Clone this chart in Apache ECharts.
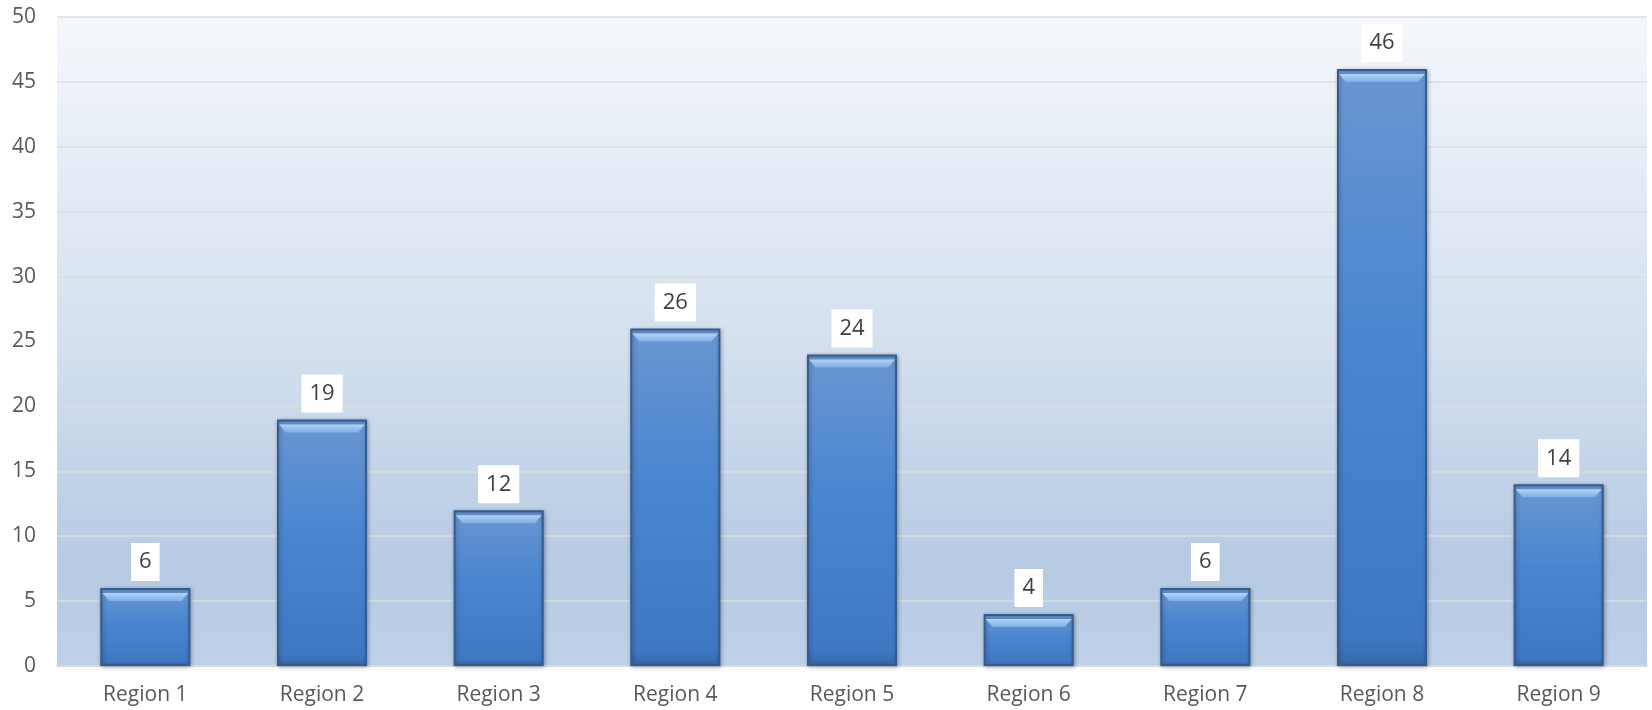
<!DOCTYPE html>
<html>
<head>
<meta charset="utf-8">
<script src="https://cdn.jsdelivr.net/npm/echarts@6/dist/echarts.min.js"></script>
<style>
  html, body { margin: 0; padding: 0; background: #fff; }
  #chart { width: 1652px; height: 710px; }
</style>
</head>
<body>
<div id="chart"></div>
<script>
const categories = ['Region 1', 'Region 2', 'Region 3', 'Region 4', 'Region 5', 'Region 6', 'Region 7', 'Region 8', 'Region 9']
const values = [6, 19, 12, 26, 24, 4, 6, 46, 14]
const yTicks = { min: 0, max: 50, interval: 5 }

const FONT = '"Open Sans", "Liberation Sans", sans-serif'

// bar body: lighter at top, deeper blue further down
const barFill = new echarts.graphic.LinearGradient(0, 0, 0, 1, [
  { offset: 0, color: '#6a96d0' },
  { offset: 0.45, color: '#4a86d0' },
  { offset: 0.95, color: '#3f78c2' },
  { offset: 1, color: '#3669a8' },
])

const option = {
  animation: false,
  backgroundColor: '#ffffff',
  grid: {
    left: 57,
    right: 5,
    top: 17,
    bottom: 44,
    show: true,
    borderWidth: 0,
    backgroundColor: new echarts.graphic.LinearGradient(0, 0, 0, 1, [
      { offset: 0, color: '#f4f7fb' },
      { offset: 0.5, color: '#d4e0ef' },
      { offset: 0.85, color: '#b6cae3' },
      { offset: 1, color: '#bfd1e8' },
    ]),
  },
  xAxis: {
    type: 'category',
    data: categories,
    axisTick: { show: false },
    axisLine: { lineStyle: { color: '#d9d9d9', width: 2 } },
    axisLabel: {
      color: '#595959',
      fontSize: 21,
      fontFamily: FONT,
      margin: 19,
    },
  },
  yAxis: {
    type: 'value',
    min: yTicks.min,
    max: yTicks.max,
    interval: yTicks.interval,
    axisLine: { show: false },
    axisTick: { show: false },
    splitLine: { lineStyle: { color: '#dcdcdc', width: 1.5 } },
    axisLabel: {
      color: '#595959',
      fontSize: 21,
      fontFamily: FONT,
      margin: 21,
    },
  },
  series: [
    {
      type: 'bar',
      data: values,
      barWidth: '51%',
      itemStyle: {
        color: barFill,
        borderColor: '#335c92',
        borderWidth: 2,
        shadowColor: 'rgba(0,0,0,0.3)',
        shadowBlur: 4,
        shadowOffsetX: 1,
        shadowOffsetY: 1,
      },
      label: {
        show: true,
        position: 'top',
        distance: 7,
        color: '#404040',
        fontSize: 22,
        lineHeight: 24,
        fontFamily: FONT,
        backgroundColor: '#ffffff',
        padding: [7, 8, 7, 8],
      },
    },
    {
      // bevel cap on top of each bar
      type: 'pictorialBar',
      data: values,
      symbol: 'path://M0,0 L20,0 L18.4,2 L1.6,2 Z',
      symbolSize: [86, 8],
      symbolPosition: 'end',
      symbolOffset: [0, 5],
      z: 3,
      silent: true,
      itemStyle: {
        color: new echarts.graphic.LinearGradient(0, 0, 0, 1, [
          { offset: 0, color: '#b3d3f6' },
          { offset: 1, color: '#7eaee8' },
        ]),
      },
    },
  ],
}

const chart = echarts.init(document.getElementById('chart'))
chart.setOption(option)
</script>
</body>
</html>
